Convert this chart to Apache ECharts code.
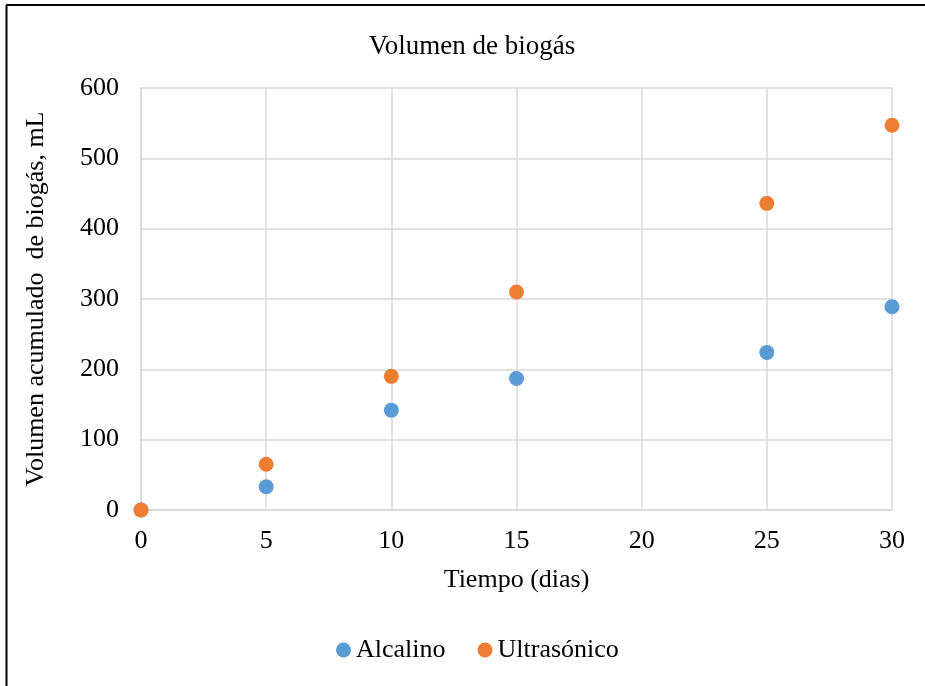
<!DOCTYPE html>
<html>
<head>
<meta charset="utf-8">
<script src="https://cdn.jsdelivr.net/npm/echarts@6/dist/echarts.min.js"></script>
<style>html,body{margin:0;padding:0;background:#fff}#c{width:925px;height:686px}</style>
</head>
<body>
<div id="c"></div>
<script>
const days = [0, 5, 10, 15, 25, 30];
const alcalino = [0, 33, 142, 187, 224, 289];
const ultrasonico = [0, 65, 190, 310, 436, 547];
const seriesNames = ['Alcalino', 'Ultrasónico'];
const titleText = 'Volumen de biogás';
const xName = 'Tiempo (dias)';
const yName = 'Volumen acumulado  de biogás, mL';

const font = '"Liberation Serif", "Times New Roman", serif';
const fs = 26;
const chart = echarts.init(document.getElementById('c'));
chart.setOption({
  backgroundColor: '#fff',
  animation: false,
  textStyle: { fontFamily: font },
  title: {
    text: titleText, left: 467, top: 28, textAlign: 'center',
    textStyle: { fontFamily: font, fontSize: 27, fontWeight: 'normal', color: '#000' }
  },
  legend: {
    bottom: 18, left: 331, itemGap: 32, itemWidth: 15, itemHeight: 15,
    icon: 'circle',
    textStyle: { fontFamily: font, fontSize: fs, color: '#000' },
    data: seriesNames
  },
  grid: { left: 141, right: 33, top: 88, bottom: 176, containLabel: false },
  xAxis: {
    type: 'value', min: 0, max: 30, interval: 5,
    name: xName, nameLocation: 'middle', nameGap: 57,
    nameTextStyle: { fontFamily: font, fontSize: fs, color: '#000' },
    axisLine: { show: true, lineStyle: { color: '#d9d9d9', width: 1.5 } },
    axisTick: { show: false },
    axisLabel: { fontFamily: font, fontSize: fs, color: '#000', margin: 18 },
    splitLine: { show: true, lineStyle: { color: '#d9d9d9', width: 1.5 } }
  },
  yAxis: {
    type: 'value', min: 0, max: 600, interval: 100,
    name: yName, nameLocation: 'middle', nameGap: 92, nameRotate: 90,
    nameTextStyle: { fontFamily: font, fontSize: fs, color: '#000' },
    axisLine: { show: true, lineStyle: { color: '#d9d9d9', width: 1.5 } },
    axisTick: { show: false },
    axisLabel: { fontFamily: font, fontSize: fs, color: '#000', margin: 22 },
    splitLine: { show: true, lineStyle: { color: '#d9d9d9', width: 1.5 } }
  },
  series: [
    { name: seriesNames[0], type: 'scatter', symbolSize: 15, itemStyle: { color: '#5b9bd5', opacity: 1 },
      data: days.map((d, i) => [d, alcalino[i]]) },
    { name: seriesNames[1], type: 'scatter', symbolSize: 15, itemStyle: { color: '#ed7d31', opacity: 1 },
      data: days.map((d, i) => [d, ultrasonico[i]]) }
  ],
  graphic: [
    { type: 'line', shape: { x1: 6.5, y1: 5, x2: 6.5, y2: 686 }, style: { stroke: '#000', lineWidth: 2 }, silent: true },
    { type: 'line', shape: { x1: 6, y1: 5, x2: 925, y2: 5 }, style: { stroke: '#000', lineWidth: 2 }, silent: true }
  ]
});
</script>
</body>
</html>
